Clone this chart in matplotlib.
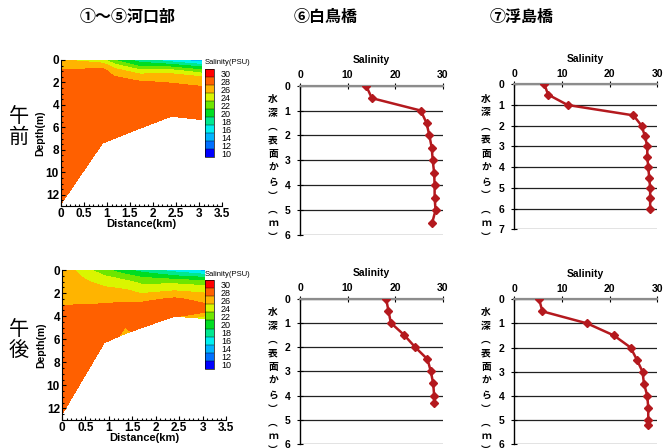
import numpy as np
import matplotlib
matplotlib.use("Agg")
import matplotlib.pyplot as plt
from matplotlib.ticker import MultipleLocator, FormatStrFormatter

plt.rcParams['font.family'] = ['Liberation Sans', 'Noto Sans CJK JP', 'DejaVu Sans']

W, H = 669, 448

# ---------------- data ----------------
# estuary section (stations 1-5), salinity per column, rows = depth levels
levels = np.arange(10, 33, 2)
band_colors = ['#0000FF', '#0070FF', '#00B4FF', '#00F0F0', '#00E890', '#00DD22',
               '#6EE600', '#DAF500', '#FFB400', '#FF6000', '#FF0000']
row_depths = [0, 0.5, 1, 1.5, 2, 2.5, 3, 3.5]   # + bottom depth as last row

am_dist = [0, 0.9, 1.15, 1.7, 2.4, 3.05]
am_bottom = [12.8, 7.4, 7.0, 6.1, 5.0, 5.3]
am_sal = [
    [26.1, 27.4, 28.2, 29, 29, 29, 29, 29, 28.6],
    [24.5, 27.2, 28.8, 29, 29, 29, 29, 29, 29],
    [22.0, 25.0, 27.0, 28.1, 29, 29, 29, 29, 29],
    [19.0, 21.5, 25.0, 27.0, 28.3, 29, 29, 29, 29],
    [16.5, 21.0, 25.0, 27.2, 27.9, 28.6, 29, 29, 29],
    [14.5, 19.0, 23.0, 26.0, 27.3, 28.3, 29, 29, 29],
]

pm_dist = [0, 0.9, 1.35, 1.7, 2.4, 3.05]
pm_bottom = [12.5, 6.3, 5.5, 5.0, 4.0, 4.2]
pm_sal = [
    [27.5, 27.5, 27.4, 27.4, 27.5, 27.6, 27.9, 28.6, 28.8],
    [22.5, 24.0, 25.2, 26.1, 26.8, 27.4, 28.1, 29, 29],
    [20.5, 22.5, 24.5, 25.7, 26.5, 27.5, 28.4, 29, 27.6],
    [19.0, 21.5, 23.3, 24.8, 25.9, 27.3, 28.5, 29, 28.8],
    [17.0, 20.0, 23.2, 25.2, 26.5, 28.3, 29, 29, 28.5],
    [15.0, 19.0, 22.5, 24.6, 26.0, 27.2, 28.2, 29, 24.5],
]

# vertical profiles
s6_am_depth = [0, 0.5, 1.0, 1.5, 2.0, 2.5, 3.0, 3.5, 4.0, 4.5, 5.0, 5.5]
s6_am_sal = [13.9, 15.1, 25.4, 26.6, 27.2, 27.7, 27.9, 28.2, 28.3, 28.3, 28.5, 27.8]

s7_am_depth = [0, 0.5, 1.0, 1.5, 2.0, 2.5, 3.0, 3.5, 4.0, 4.5, 5.0, 5.5, 6.0]
s7_am_sal = [6.3, 7.1, 11.2, 25.0, 26.7, 27.4, 27.9, 27.9, 28.1, 28.3, 28.5, 28.5, 28.5]

s6_pm_depth = [0, 0.5, 1.0, 1.5, 2.0, 2.5, 3.0, 3.5, 4.0, 4.3]
s6_pm_sal = [18.1, 18.6, 19.1, 21.9, 24.2, 26.8, 27.5, 28.0, 28.2, 28.2]

s7_pm_depth = [0, 0.5, 1.0, 1.5, 2.0, 2.5, 3.0, 3.5, 4.0, 4.5, 5.0, 5.2]
s7_pm_sal = [5.2, 5.9, 15.3, 20.9, 24.4, 25.7, 26.9, 27.2, 27.9, 28.1, 28.1, 28.1]

titles = ['①～⑤河口部', '⑥白鳥橋', '⑦浮島橋']
ylabel_chars = ['水', '深', '︵', '表', '面', 'か', 'ら', '︶', '︵', 'ｍ', '︶']


def box(l, t, r, b):
    return [l / W, 1 - b / H, (r - l) / W, (b - t) / H]


fig = plt.figure(figsize=(W / 100, H / 100), dpi=100)


def section(rect, cbrect, dist, bottom, sal):
    ax = fig.add_axes(rect)
    X = np.tile(dist, (len(row_depths) + 1, 1))
    Y = np.array([row_depths + [b] for b in bottom]).T
    Z = np.array(sal).T
    cf = ax.contourf(X, Y, Z, levels=levels, colors=band_colors)
    ax.set_xlim(0, 3.5)
    ax.set_ylim(13, 0)
    ax.xaxis.set_major_locator(MultipleLocator(0.5))
    ax.xaxis.set_minor_locator(MultipleLocator(0.1))
    ax.yaxis.set_major_locator(MultipleLocator(2))
    ax.yaxis.set_minor_locator(MultipleLocator(0.5))
    ax.xaxis.set_major_formatter(FormatStrFormatter('%g'))
    ax.tick_params(which='both', direction='in', labelsize=8.5, width=0.8, pad=1.5)
    ax.tick_params(which='major', length=3)
    ax.tick_params(which='minor', length=1.5)
    for lab in ax.get_xticklabels() + ax.get_yticklabels():
        lab.set_fontweight('bold')
    for s in ['top', 'right']:
        ax.spines[s].set_visible(False)
    ax.set_xlabel('Distance(km)', fontsize=8, fontweight='bold', labelpad=-1)
    ax.set_ylabel('Depth(m)', fontsize=7.5, fontweight='bold', labelpad=0)

    cax = fig.add_axes(cbrect)
    cb = fig.colorbar(cf, cax=cax, drawedges=True)
    cb.set_ticks(levels[:-1] + 1)
    cb.set_ticklabels([str(v) for v in levels[:-1]])
    cax.tick_params(length=0, labelsize=6.5, pad=5)
    cb.outline.set_linewidth(0.5)
    cb.dividers.set_linewidth(0.3)
    return ax


def profile(rect, sal, depth, ymax, label_x, label_top):
    ax = fig.add_axes(rect)
    ax.plot(sal, depth, color='#B4191E', lw=1.8, marker='D', markersize=4,
            markeredgecolor='#B4191E', zorder=3)
    ax.set_xlim(0, 30)
    ax.set_ylim(ymax, 0)
    ax.set_xticks([0, 10, 20, 30])
    ax.set_yticks(range(0, ymax + 1))
    ax.xaxis.tick_top()
    ax.xaxis.set_label_position('top')
    ax.set_xlabel('Salinity', fontsize=7.5, fontweight='bold', labelpad=5)
    ax.tick_params(direction='inout', length=4, width=0.8, labelsize=7.5, pad=2)
    ax.tick_params(axis='y', pad=5)
    for lab in ax.get_xticklabels() + ax.get_yticklabels():
        lab.set_fontweight('bold')
    ax.yaxis.grid(True, color='#222222', lw=0.9)
    ax.set_axisbelow(True)
    for s in ['right', 'bottom']:
        ax.spines[s].set_visible(False)
    ax.spines['top'].set_color('#8C8C8C')
    ax.spines['top'].set_linewidth(1.6)
    ax.spines['left'].set_linewidth(1.0)
    for i, ch in enumerate(ylabel_chars):
        fig.text(label_x / W, 1 - (label_top + i * 13.8) / H, ch, fontsize=7,
                 fontweight='bold', ha='center', va='center',
                 family=['Noto Sans CJK JP', 'DejaVu Sans'])
    return ax


section(box(61, 60, 222, 206), box(205, 69, 214, 157), am_dist, am_bottom, am_sal)
section(box(62, 270, 226, 420), box(205, 280, 214, 369), pm_dist, pm_bottom, pm_sal)
fig.text(205 / W, 1 - 62 / H, 'Salinity(PSU)', fontsize=5.5, va='center')
fig.text(205 / W, 1 - 275 / H, 'Salinity(PSU)', fontsize=5.5, va='center')

profile(box(300, 85.7, 442.7, 235), s6_am_sal, s6_am_depth, 6, 273, 99)
profile(box(514.3, 84.3, 657.3, 229.3), s7_am_sal, s7_am_depth, 7, 486, 98.5)
profile(box(300, 298.7, 442.7, 444), s6_pm_sal, s6_pm_depth, 6, 273, 312)
profile(box(514.3, 299.3, 657.3, 444), s7_pm_sal, s7_pm_depth, 6, 486, 312)

for x, t in zip([128, 326, 522], titles):
    fig.text(x / W, 1 - 17 / H, t, fontsize=11.5, fontweight='bold', ha='center',
             va='center', family=['Noto Sans CJK JP', 'DejaVu Sans'])

for ch, y in [('午', 116), ('前', 137), ('午', 329), ('後', 350)]:
    fig.text(19 / W, 1 - y / H, ch, fontsize=14.5, ha='center', va='center',
             family=['Noto Sans CJK JP', 'DejaVu Sans'])

fig.savefig('out.png', dpi=100)
